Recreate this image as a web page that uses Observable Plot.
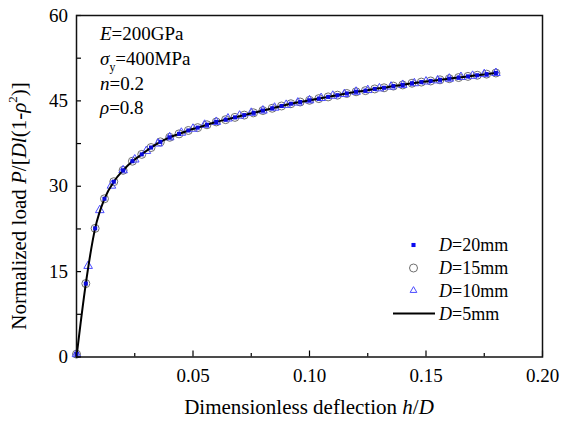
<!DOCTYPE html>
<html><head><meta charset="utf-8">
<script src="https://cdn.jsdelivr.net/npm/d3@7"></script>
<script src="https://cdn.jsdelivr.net/npm/@observablehq/plot@0.6"></script>
<style>body{margin:0;background:#fff} svg{display:block} svg, svg text{font-family:"Liberation Serif","Times New Roman","DejaVu Serif",serif !important}</style>
</head><body><div id="chart"></div>
<script>
// D = 20 mm (filled squares)
const hD20 = [0, 0.004, 0.008, 0.012, 0.016, 0.020, 0.024, 0.028, 0.032, 0.036, 0.040, 0.044, 0.048, 0.052, 0.056, 0.060, 0.064, 0.068, 0.072, 0.076, 0.080, 0.084, 0.088, 0.092, 0.096, 0.100, 0.104, 0.108, 0.112, 0.116, 0.120, 0.124, 0.128, 0.132, 0.136, 0.140, 0.144, 0.148, 0.152, 0.156, 0.160, 0.164, 0.168, 0.172, 0.176, 0.180];
const load20 = [0.5, 12.9, 22.6, 27.8, 30.8, 32.8, 34.4, 35.6, 36.8, 37.8, 38.6, 39.2, 39.8, 40.3, 40.8, 41.3, 41.7, 42.1, 42.5, 42.9, 43.3, 43.7, 44.1, 44.5, 44.8, 45.1, 45.4, 45.7, 46.0, 46.3, 46.6, 46.8, 47.1, 47.3, 47.6, 47.8, 48.1, 48.3, 48.5, 48.7, 48.9, 49.1, 49.3, 49.5, 49.7, 49.9];
// D = 15 mm (open circles)
const hD15 = [0, 0.004, 0.008, 0.012, 0.016, 0.020, 0.024, 0.028, 0.032, 0.036, 0.040, 0.044, 0.048, 0.052, 0.056, 0.060, 0.064, 0.068, 0.072, 0.076, 0.080, 0.084, 0.088, 0.092, 0.096, 0.100, 0.104, 0.108, 0.112, 0.116, 0.120, 0.124, 0.128, 0.132, 0.136, 0.140, 0.144, 0.148, 0.152, 0.156, 0.160, 0.164, 0.168, 0.172, 0.176, 0.180];
const load15 = [0.5, 12.9, 22.6, 27.8, 30.8, 32.8, 34.4, 35.6, 36.8, 37.8, 38.6, 39.2, 39.8, 40.3, 40.8, 41.3, 41.7, 42.1, 42.5, 42.9, 43.3, 43.7, 44.1, 44.5, 44.8, 45.1, 45.4, 45.7, 46.0, 46.3, 46.6, 46.8, 47.1, 47.3, 47.6, 47.8, 48.1, 48.3, 48.5, 48.7, 48.9, 49.1, 49.3, 49.5, 49.7, 49.9];
// D = 10 mm (open triangles)
const hD10 = [0, 0.005, 0.010, 0.015, 0.020, 0.025, 0.030, 0.035, 0.040, 0.045, 0.050, 0.055, 0.060, 0.065, 0.070, 0.075, 0.080, 0.085, 0.090, 0.095, 0.100, 0.105, 0.110, 0.115, 0.120, 0.125, 0.130, 0.135, 0.140, 0.145, 0.150, 0.155, 0.160, 0.165, 0.170, 0.175, 0.180];
const load10 = [0.5, 16.0, 25.8, 30.1, 32.8, 34.7, 36.2, 37.5, 38.6, 39.4, 40.1, 40.8, 41.3, 41.9, 42.4, 42.9, 43.3, 43.8, 44.3, 44.7, 45.1, 45.5, 45.9, 46.2, 46.6, 46.9, 47.2, 47.5, 47.8, 48.1, 48.4, 48.6, 48.9, 49.2, 49.4, 49.7, 49.9];
// D = 5 mm (solid line)
const hD5 = [0, 0.004, 0.008, 0.012, 0.016, 0.020, 0.024, 0.028, 0.032, 0.036, 0.040, 0.044, 0.048, 0.052, 0.056, 0.060, 0.064, 0.068, 0.072, 0.076, 0.080, 0.084, 0.088, 0.092, 0.096, 0.100, 0.104, 0.108, 0.112, 0.116, 0.120, 0.124, 0.128, 0.132, 0.136, 0.140, 0.144, 0.148, 0.152, 0.156, 0.160, 0.164, 0.168, 0.172, 0.176, 0.180];
const load5 = [0, 12.9, 22.6, 27.8, 30.8, 32.8, 34.4, 35.6, 36.8, 37.8, 38.6, 39.2, 39.8, 40.3, 40.8, 41.3, 41.7, 42.1, 42.5, 42.9, 43.3, 43.7, 44.1, 44.5, 44.8, 45.1, 45.4, 45.7, 46.0, 46.3, 46.6, 46.8, 47.1, 47.3, 47.6, 47.8, 48.1, 48.3, 48.5, 48.7, 48.9, 49.1, 49.3, 49.5, 49.7, 49.9];

const xMajorTicks = [0.05, 0.10, 0.15, 0.20];
const xMinorTicks = [0.025, 0.075, 0.125, 0.175];
const yMajorTicks = [0, 15, 30, 45, 60];
const yMinorTicks = [7.5, 22.5, 37.5, 52.5];
const seriesNames = ["D=20mm", "D=15mm", "D=10mm", "D=5mm"];

const zip = (xs, ys) => xs.map((h, i) => ({h, p: ys[i]}));
const d20 = zip(hD20, load20), d15 = zip(hD15, load15), d10 = zip(hD10, load10), d5 = zip(hD5, load5);

const FONT = '"Liberation Serif", "Times New Roman", "DejaVu Serif", serif';

const plot = Plot.plot({
  width: 572, height: 423,
  marginLeft: 76, marginRight: 30, marginTop: 15, marginBottom: 66.5,
  style: {fontFamily: FONT, fontSize: "19px", color: "#000", background: "#fff", overflow: "visible"},
  x: {domain: [0, 0.2], label: null},
  y: {domain: [0, 60], label: null},
  marks: [
    Plot.dot(d15, {x: "h", y: "p", r: 4, stroke: "#6e6e6e", strokeWidth: 1, fill: "none"}),
    Plot.dot(d10, {x: "h", y: "p", symbol: "triangle", r: 3.2, stroke: "#4b4bff", strokeWidth: 1, fill: "none"}),
    Plot.line(d5, {x: "h", y: "p", curve: "monotone-x", stroke: "#000", strokeWidth: 2}),
    Plot.dot(d20, {x: "h", y: "p", symbol: "square", r: 2.3, fill: "#0a0ad8", stroke: "none"}),
    Plot.axisX(xMajorTicks, {tickSize: -6, tickPadding: 17.5, tickFormat: d3.format(".2f"), stroke: "#000", strokeWidth: 1.2, fontSize: 19}),
    Plot.axisX(xMinorTicks, {tickSize: -3.5, tickPadding: 0, tickFormat: () => "", stroke: "#000", strokeWidth: 1.2}),
    Plot.axisY(yMajorTicks, {tickSize: -5, tickPadding: 13.5, stroke: "#000", strokeWidth: 1.2, fontSize: 19}),
    Plot.axisY(yMinorTicks, {tickSize: -5, tickPadding: 0, tickFormat: () => "", stroke: "#000", strokeWidth: 1.2}),
    Plot.frame({stroke: "#111", strokeWidth: 1.5})
  ]
});

const svg = d3.select(plot);

function richText(parent, x, y, parts, size, anchor = "start", transform = null) {
  const t = parent.append("text")
    .attr("x", x).attr("y", y)
    .style("font-family", FONT).attr("font-size", size)
    .attr("text-anchor", anchor).attr("fill", "#000");
  if (transform) t.attr("transform", transform).attr("x", 0).attr("y", 0);
  let shift = 0;
  for (const [s, kind] of parts) {
    const sp = t.append("tspan").text(s);
    if (kind === "i") sp.attr("font-style", "italic");
    if (kind === "sub" || kind === "sup") {
      const d = kind === "sub" ? size * 0.35 : -size * 0.42;
      sp.attr("font-size", size * 0.62).attr("dy", d - shift);
      shift = d;
    } else if (shift !== 0) {
      sp.attr("dy", -shift);
      shift = 0;
    }
  }
  return t;
}

// parameter annotations
richText(svg, 100, 40, [["E", "i"], ["=200GPa", ""]], 19);
richText(svg, 100, 64.5, [["σ", "i"], ["y", "sub"], ["=400MPa", ""]], 19);
richText(svg, 100, 90, [["n", "i"], ["=0.2", ""]], 19);
richText(svg, 100, 114, [["ρ", "i"], ["=0.8", ""]], 19);

// axis titles
richText(svg, 309, 414, [["Dimensionless deflection ", ""], ["h", "i"], ["/", ""], ["D", "i"]], 21, "middle");
richText(svg, 0, 0, [["Normalized load ", ""], ["P", "i"], ["/[", ""], ["Dl", "i"], ["(1-", ""], ["ρ", "i"], ["2", "sup"], [")]", ""]], 21, "middle", "translate(26,206) rotate(-90)");

// legend
const lg = svg.append("g");
const lx = 413.5, rows = [245, 268, 290.5, 313.5], tx = 439;
lg.append("path").attr("d", d3.symbol(d3.symbolSquare, 2.3 * 2.3 * Math.PI)()).attr("transform", `translate(${lx},${rows[0]})`).attr("fill", "#0a0af0");
lg.append("circle").attr("cx", lx).attr("cy", rows[1]).attr("r", 4).attr("fill", "none").attr("stroke", "#6e6e6e");
lg.append("path").attr("d", d3.symbol(d3.symbolTriangle2, 3.2 * 3.2 * Math.PI)()).attr("transform", `translate(${lx},${rows[2]})`).attr("fill", "none").attr("stroke", "#4b4bff");
lg.append("line").attr("x1", 393).attr("x2", 435).attr("y1", rows[3]).attr("y2", rows[3]).attr("stroke", "#000").attr("stroke-width", 2);
seriesNames.forEach((name, i) => {
  const [d, rest] = [name.slice(0, 1), name.slice(1)];
  richText(lg, tx, rows[i] + 6, [[d, "i"], [rest, ""]], 18);
});

document.getElementById("chart").appendChild(plot);
</script>
</body></html>
